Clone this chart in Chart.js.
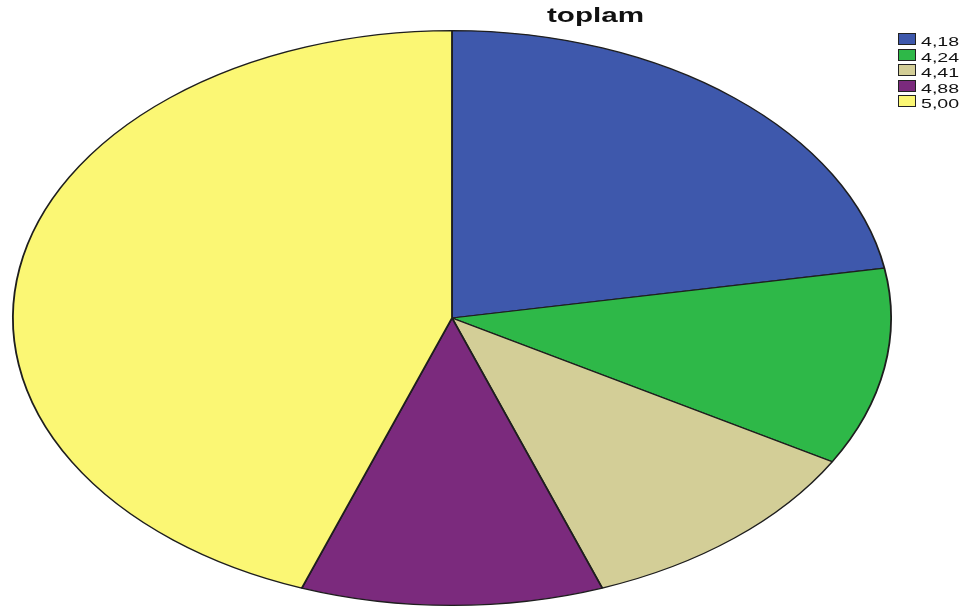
<!DOCTYPE html>
<html>
<head>
<meta charset="utf-8">
<script src="https://cdn.jsdelivr.net/npm/chart.js@4/dist/chart.umd.min.js"></script>
<style>
  html, body { margin: 0; padding: 0; background: #fff; }
  #wrap { position: relative; width: 971px; height: 608px; overflow: hidden; }
  #chart { position: absolute; left: 0; top: 0; }
  .title {
    position: absolute; left: 547px; top: 5px;
    font: bold 20px "Liberation Sans", Arial, sans-serif; line-height: 20px;
    transform: scaleX(1.48); transform-origin: left top; color: #111;
  }
  .legend-box {
    position: absolute; left: 898px; width: 16px; height: 10px;
    border: 1px solid #222;
  }
  .legend-text {
    position: absolute; left: 921px;
    font: 13.5px "Liberation Sans", Arial, sans-serif; line-height: 13px;
    transform: scaleX(1.45); transform-origin: left top; color: #111;
  }
</style>
</head>
<body>
<div id="wrap">
  <canvas id="chart" width="971" height="608"></canvas>
  <div class="title" id="title"></div>
  <div id="legend"></div>
</div>
<script>
// データ (toplam の度数)
const titleText = "toplam"
const categories = ["4,18", "4,24", "4,41", "4,88", "5,00"]
const counts = [2, 1, 1, 1, 4]
const sliceColors = ["#3e58ac", "#2eb848", "#d3ce97", "#7b2a7d", "#fbf774"]

// 楕円の中心と横方向の伸び
const centerX = 452
const stretchX = 440 / 288

document.getElementById("title").textContent = titleText

// 凡例 (HTML)
const legend = document.getElementById("legend")
categories.forEach((label, i) => {
  const top = 33 + i * 15.5
  const box = document.createElement("div")
  box.className = "legend-box"
  box.style.top = top + "px"
  box.style.background = sliceColors[i]
  legend.appendChild(box)

  const text = document.createElement("div")
  text.className = "legend-text"
  text.style.top = (top + 2) + "px"
  text.textContent = label
  legend.appendChild(text)
})

// 円を横に伸ばして楕円にするプラグイン
const ellipsePlugin = {
  id: "ellipse",
  beforeDatasetsDraw(chart) {
    const ctx = chart.ctx
    ctx.save()
    ctx.translate(centerX, 0)
    ctx.scale(stretchX, 1)
    ctx.translate(-centerX, 0)
  },
  afterDatasetsDraw(chart) {
    chart.ctx.restore()
  }
}

new Chart(document.getElementById("chart"), {
  type: "pie",
  data: {
    labels: categories,
    datasets: [{
      data: counts,
      backgroundColor: sliceColors,
      borderColor: "#1e1e1e",
      borderWidth: 1.2,
      hoverOffset: 0
    }]
  },
  options: {
    responsive: false,
    animation: false,
    layout: {
      padding: { left: 164, right: 231, top: 30, bottom: 2 }
    },
    plugins: {
      legend: { display: false },
      title: { display: false },
      tooltip: { enabled: false }
    }
  },
  plugins: [ellipsePlugin]
})
</script>
</body>
</html>
